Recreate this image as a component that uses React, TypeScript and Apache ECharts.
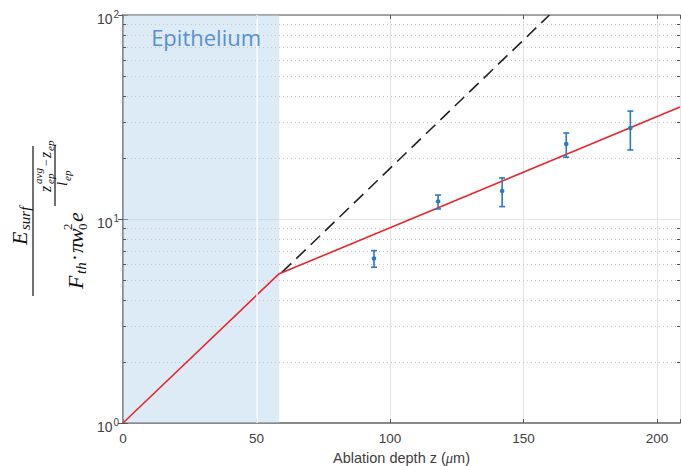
import React, { useEffect, useRef } from "react";
import * as echarts from "echarts";

// ---- data ----
const measZ = [94, 118, 142, 166, 190];
const measMean = [6.4, 12.2, 13.7, 23.3, 27.9];
const measLow = [5.8, 11.2, 11.5, 20.1, 21.8];
const measHigh = [7.0, 13.1, 15.9, 26.4, 33.8];

const fitZ = [0, 58.3, 208.6];
const fitVal = [1, 5.37, 35.4];

const extrapZ = [59.5, 159.7];
const extrapVal = [5.47, 100];

const epitheliumRange = [0, 58.5];
const minorGridValues = [2, 3, 4, 5, 6, 7, 8, 9, 20, 30, 40, 50, 60, 70, 80, 90];

const xMin = 0;
const xMax = 208.6;
const xStep = 50;
const yMin = 1;
const yMax = 100;

const AXIS_COLOR = "#8a8a8a";
const TEXT_COLOR = "#404040";
const BLUE = "#2f78c2";
const SANS = "'Liberation Sans', Arial, sans-serif";

export default function App() {
  const ref = useRef<HTMLDivElement>(null);

  useEffect(() => {
    if (!ref.current) return;
    const chart = echarts.init(ref.current, undefined, { renderer: "svg" });

    const serif = "'Liberation Serif', 'DejaVu Serif', serif";
    const t = (text: string, u: number, v: number, size: number, extra: any = {}) => ({
      type: "text",
      x: u,
      y: v,
      style: {
        text,
        fontFamily: serif,
        fontStyle: "italic",
        fontSize: size,
        fill: "#111",
        align: "left",
        verticalAlign: "middle",
        ...extra,
      },
    });
    const bar = (u1: number, u2: number, v: number) => ({
      type: "line",
      shape: { x1: u1, y1: v, x2: u2, y2: v },
      style: { stroke: "#111", lineWidth: 1.2 },
    });

    const yLabel = {
      type: "group",
      x: 0,
      y: 310,
      rotation: Math.PI / 2,
      children: [
        bar(14, 164, 33),
        t("E", 65, 19, 22),
        t("surf", 80, 25, 15),
        t("F", 21, 75, 22),
        t("th", 36, 81, 15),
        t("·", 49, 75, 21, { fontStyle: "normal" }),
        t("π", 57, 75, 22),
        t("w", 67, 75, 22),
        t("0", 80, 82, 13, { fontStyle: "normal" }),
        t("2", 80, 67, 13, { fontStyle: "normal" }),
        t("e", 88, 75, 22),
        bar(104, 165, 55),
        t("z", 118, 45, 16),
        t("avg", 126, 38, 11),
        t("ep", 126, 50, 11),
        t("−", 144, 46, 12, { fontStyle: "normal" }),
        t("z", 152, 45, 16),
        t("ep", 159, 50, 11),
        t("l", 124, 62, 15),
        t("ep", 129, 67, 11),
      ],
    };

    const option: any = {
      animation: false,
      textStyle: { fontFamily: SANS },
      grid: {
        left: 123,
        top: 15,
        right: 1,
        bottom: 43,
        containLabel: false,
        outerBoundsMode: "none",
      },
      xAxis: [
        {
          type: "value",
          min: xMin,
          max: xMax,
          interval: xStep,
          axisLine: { show: true, lineStyle: { color: AXIS_COLOR, width: 2 } },
          axisTick: { show: true, inside: true, length: 4, lineStyle: { color: "#555" } },
          axisLabel: {
            color: TEXT_COLOR,
            fontFamily: SANS,
            fontSize: 13.5,
            margin: 8,
            formatter: (v: number) => (v % xStep === 0 ? String(v) : ""),
          },
          splitLine: { show: true, lineStyle: { color: "#e4e4e4", width: 1 } },
          name: "Ablation depth z ({i|μ}m)",
          nameLocation: "middle",
          nameGap: 27,
          nameTextStyle: {
            color: TEXT_COLOR,
            fontFamily: SANS,
            fontSize: 14.5,
            rich: {
              i: {
                fontStyle: "italic",
                color: TEXT_COLOR,
                fontFamily: "'Liberation Serif', serif",
                fontSize: 14.5,
              },
            },
          },
        },
        {
          type: "value",
          position: "top",
          min: xMin,
          max: xMax,
          interval: xStep,
          axisLine: { show: true, lineStyle: { color: AXIS_COLOR, width: 1.5 } },
          axisTick: { show: true, inside: true, length: 4, lineStyle: { color: "#555" } },
          axisLabel: { show: false },
          splitLine: { show: false },
        },
      ],
      yAxis: [
        {
          type: "log",
          logBase: 10,
          min: yMin,
          max: yMax,
          axisLine: { show: true, lineStyle: { color: AXIS_COLOR, width: 2 } },
          axisTick: { show: true, inside: true, length: 5, lineStyle: { color: "#555" } },
          axisLabel: {
            margin: 4,
            fontSize: 14,
            color: TEXT_COLOR,
            fontFamily: SANS,
            padding: [8, 0, 0, 0],
            formatter: (v: number) => "10{sup|" + Math.round(Math.log10(v)) + "}",
            rich: {
              sup: {
                fontSize: 10,
                color: TEXT_COLOR,
                fontFamily: SANS,
                padding: [0, 0, 9, 1],
              },
            },
          },
          splitLine: { show: true, lineStyle: { color: "#e4e4e4", width: 1 } },
        },
        {
          type: "log",
          logBase: 10,
          min: yMin,
          max: yMax,
          position: "right",
          axisLine: { show: true, lineStyle: { color: AXIS_COLOR, width: 1.5 } },
          axisTick: { show: true, inside: true, length: 5, lineStyle: { color: "#555" } },
          axisLabel: { show: false },
          splitLine: { show: false },
        },
      ],
      graphic: [yLabel],
      series: [
        {
          type: "custom",
          name: "minorGrid",
          silent: true,
          z: 1,
          data: minorGridValues.map((v) => [xMin, v]),
          encode: { x: 0, y: 1 },
          renderItem: (params: any, api: any) => {
            const cs = params.coordSys;
            const p = api.coord([api.value(0), api.value(1)]);
            const y = Math.round(p[1]) + 0.5;
            return {
              type: "group",
              children: [
                {
                  type: "line",
                  shape: { x1: cs.x, y1: y, x2: cs.x + cs.width, y2: y },
                  style: { stroke: "#c4c4c4", lineWidth: 1, lineDash: [1, 3] },
                },
                {
                  type: "line",
                  shape: { x1: cs.x, y1: y, x2: cs.x + 3, y2: y },
                  style: { stroke: "#555", lineWidth: 1 },
                },
                {
                  type: "line",
                  shape: { x1: cs.x + cs.width - 3, y1: y, x2: cs.x + cs.width, y2: y },
                  style: { stroke: "#555", lineWidth: 1 },
                },
              ],
            };
          },
          markArea: {
            silent: true,
            itemStyle: { color: "rgba(180, 210, 236, 0.45)" },
            data: [[{ xAxis: epitheliumRange[0] }, { xAxis: epitheliumRange[1] }]],
          },
          markLine: {
            silent: true,
            symbol: "none",
            label: { show: false },
            lineStyle: { color: "rgba(255,255,255,0.95)", type: "solid", width: 1.5 },
            data: [{ xAxis: 50 }],
          },
        },
        {
          type: "line",
          name: "extrapolation",
          z: 3,
          symbol: "none",
          data: extrapZ.map((z, i) => [z, extrapVal[i]]),
          lineStyle: { color: "#222", width: 1.6, type: [13, 7] },
          markArea: {
            silent: true,
            z: 8,
            itemStyle: { color: "rgba(0,0,0,0)" },
            label: {
              show: true,
              position: "insideTop",
              distance: 11,
              offset: [5, 0],
              color: "#5b8fd0",
              fontFamily: "'Open Sans', 'Noto Sans', sans-serif",
              fontSize: 22,
            },
            data: [[{ xAxis: epitheliumRange[0], name: "Epithelium" }, { xAxis: epitheliumRange[1] }]],
          },
        },
        {
          type: "line",
          name: "fit",
          z: 4,
          symbol: "none",
          data: fitZ.map((z, i) => [z, fitVal[i]]),
          lineStyle: { color: "#e8262d", width: 1.6 },
        },
        {
          type: "custom",
          name: "measured",
          z: 5,
          data: measZ.map((z, i) => [z, measMean[i], measLow[i], measHigh[i]]),
          encode: { x: 0, y: [1, 2, 3] },
          renderItem: (params: any, api: any) => {
            const x = api.value(0);
            const p = api.coord([x, api.value(1)]);
            const lo = api.coord([x, api.value(2)]);
            const hi = api.coord([x, api.value(3)]);
            const cw = 3;
            const st = { stroke: BLUE, lineWidth: 1.6 };
            return {
              type: "group",
              children: [
                { type: "line", shape: { x1: p[0], y1: lo[1], x2: p[0], y2: hi[1] }, style: st },
                { type: "line", shape: { x1: p[0] - cw, y1: lo[1], x2: p[0] + cw, y2: lo[1] }, style: st },
                { type: "line", shape: { x1: p[0] - cw, y1: hi[1], x2: p[0] + cw, y2: hi[1] }, style: st },
                { type: "circle", shape: { cx: p[0], cy: p[1], r: 2.3 }, style: { fill: BLUE } },
              ],
            };
          },
        },
      ],
    };

    chart.setOption(option);
    return () => chart.dispose();
  }, []);

  return (
    <div
      ref={ref}
      style={{ position: "fixed", left: 0, top: 0, width: 681, height: 466, background: "#fff" }}
    />
  );
}
